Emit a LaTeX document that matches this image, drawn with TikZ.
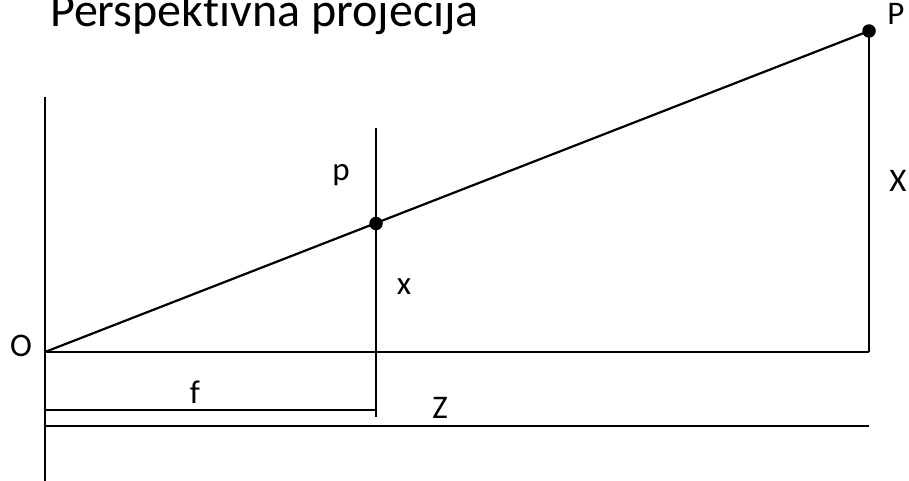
\documentclass[tikz,border=0pt]{standalone}
\usepackage{fontspec}
\setmainfont[Ligatures=NoCommon]{Carlito}
\begin{document}
\begin{tikzpicture}[x=1pt,y=-1pt,
  ln/.style={line width=2.2pt},
  dot/.style={circle,fill=black,inner sep=0pt,minimum size=13.5pt},
  lbl/.style={inner sep=0pt,anchor=base,font=\fontsize{33}{33}\selectfont},
  ttl/.style={inner sep=0pt,anchor=base west,font=\fontsize{48}{48}\selectfont}]
\useasboundingbox (0,0) rectangle (909,481);
% coordinates
\coordinate (O) at (45,352);
\coordinate (Otop) at (45,97);
\coordinate (Obot) at (45,481);
\coordinate (ptop) at (376,128);
\coordinate (pbot) at (376,417);
\coordinate (Pbase) at (869,352);
\coordinate (fL) at (45,410);
\coordinate (fR) at (376,410);
\coordinate (zL) at (45,426);
\coordinate (zR) at (869,426);
\node[dot] (P) at (869,31) {};
\node[dot] (p) at (376,223.5) {};
% lines
\draw[ln] (Otop) -- (Obot);
\draw[ln] (ptop) -- (pbot);
\draw[ln] (O) -- (Pbase);
\draw[ln] (P.center) -- (Pbase);
\draw[ln] (O) -- (P.center);
\draw[ln] (fL) -- (fR);
\draw[ln] (zL) -- (zR);
% labels
\node[ttl] (title) at (50,27) {Perspektivna projecija};
\node[lbl] (lP) at (896,25) {P};
\node[lbl] (lX) at (898,191) {X};
\node[lbl] (lp) at (341,180) {p};
\node[lbl] (lx) at (404,294) {x};
\node[lbl] (lO) at (21,356) {O};
\node[lbl] (lf) at (195,403) {f};
\node[lbl] (lZ) at (440,418) {Z};
\end{tikzpicture}
\end{document}
